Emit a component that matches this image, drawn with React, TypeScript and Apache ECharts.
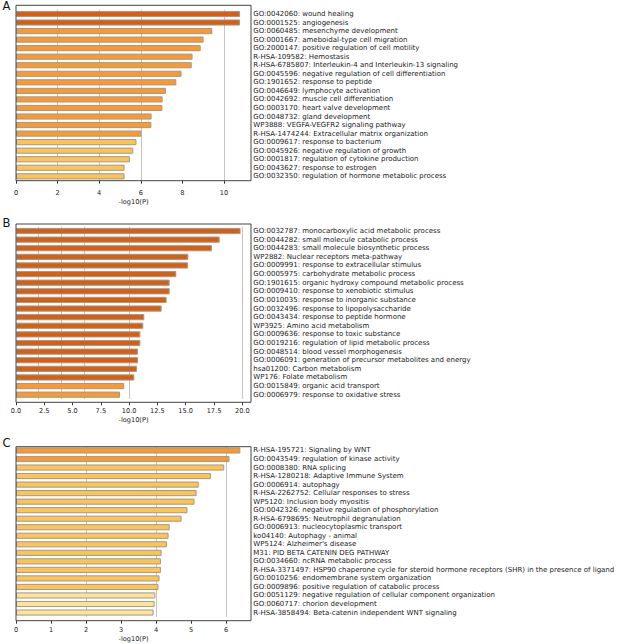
import React, { useEffect, useRef } from "react";
import * as echarts from "echarts";

const catsA = [
  "GO:0042060: wound healing",
  "GO:0001525: angiogenesis",
  "GO:0060485: mesenchyme development",
  "GO:0001667: ameboidal-type cell migration",
  "GO:2000147: positive regulation of cell motility",
  "R-HSA-109582: Hemostasis",
  "R-HSA-6785807: Interleukin-4 and Interleukin-13 signaling",
  "GO:0045596: negative regulation of cell differentiation",
  "GO:1901652: response to peptide",
  "GO:0046649: lymphocyte activation",
  "GO:0042692: muscle cell differentiation",
  "GO:0003170: heart valve development",
  "GO:0048732: gland development",
  "WP3888: VEGFA-VEGFR2 signaling pathway",
  "R-HSA-1474244: Extracellular matrix organization",
  "GO:0009617: response to bacterium",
  "GO:0045926: negative regulation of growth",
  "GO:0001817: regulation of cytokine production",
  "GO:0043627: response to estrogen",
  "GO:0032350: regulation of hormone metabolic process",
];
const valsA = [10.77, 10.77, 9.44, 9.02, 8.88, 8.49, 8.45, 7.96, 7.71, 7.21, 7.05, 7.04, 6.52, 6.51, 6.03, 5.79, 5.64, 5.48, 5.22, 5.22];

const catsB = [
  "GO:0032787: monocarboxylic acid metabolic process",
  "GO:0044282: small molecule catabolic process",
  "GO:0044283: small molecule biosynthetic process",
  "WP2882: Nuclear receptors meta-pathway",
  "GO:0009991: response to extracellular stimulus",
  "GO:0005975: carbohydrate metabolic process",
  "GO:1901615: organic hydroxy compound metabolic process",
  "GO:0009410: response to xenobiotic stimulus",
  "GO:0010035: response to inorganic substance",
  "GO:0032496: response to lipopolysaccharide",
  "GO:0043434: response to peptide hormone",
  "WP3925: Amino acid metabolism",
  "GO:0009636: response to toxic substance",
  "GO:0019216: regulation of lipid metabolic process",
  "GO:0048514: blood vessel morphogenesis",
  "GO:0006091: generation of precursor metabolites and energy",
  "hsa01200: Carbon metabolism",
  "WP176: Folate metabolism",
  "GO:0015849: organic acid transport",
  "GO:0006979: response to oxidative stress",
];
const valsB = [19.85, 18.0, 17.32, 15.23, 15.2, 14.17, 13.58, 13.58, 13.31, 12.87, 11.34, 11.25, 10.99, 10.99, 10.78, 10.78, 10.69, 10.46, 9.57, 9.19];

const catsC = [
  "R-HSA-195721: Signaling by WNT",
  "GO:0043549: regulation of kinase activity",
  "GO:0008380: RNA splicing",
  "R-HSA-1280218: Adaptive Immune System",
  "GO:0006914: autophagy",
  "R-HSA-2262752: Cellular responses to stress",
  "WP5120: Inclusion body myositis",
  "GO:0042326: negative regulation of phosphorylation",
  "R-HSA-6798695: Neutrophil degranulation",
  "GO:0006913: nucleocytoplasmic transport",
  "ko04140: Autophagy - animal",
  "WP5124: Alzheimer's disease",
  "M31: PID BETA CATENIN DEG PATHWAY",
  "GO:0034660: ncRNA metabolic process",
  "R-HSA-3371497: HSP90 chaperone cycle for steroid hormone receptors (SHR) in the presence of ligand",
  "GO:0010256: endomembrane system organization",
  "GO:0009896: positive regulation of catabolic process",
  "GO:0051129: negative regulation of cellular component organization",
  "GO:0060717: chorion development",
  "R-HSA-3858494: Beta-catenin independent WNT signaling",
];
const valsC = [6.41, 6.1, 5.95, 5.57, 5.22, 5.16, 5.1, 4.9, 4.73, 4.39, 4.36, 4.31, 4.16, 4.14, 4.14, 4.1, 4.07, 3.98, 3.96, 3.93];

const ticksA = [0, 2, 4, 6, 8, 10];
const ticksB = [0, 2.5, 5, 7.5, 10, 12.5, 15, 17.5, 20];
const ticksC = [0, 1, 2, 3, 4, 5, 6];
const gridThresholds = [2, 4, 6, 10, 20];
const panelLetters = ["A", "B", "C"];
const axisTitle = "-log10(P)";

const FONT = "DejaVu Sans";

function binColor(v: number): string {
  if (v > 10) return "#D95F0E";
  if (v > 6) return "#FE9929";
  if (v > 4) return "#FEC44F";
  return "#FEE391";
}

const layout = [
  { max: 11.3, decimals: 0, frameTop: 5.3, frameBottom: 180.7, bandTop: 9.7, bandBottom: 180.6, letterY: 6, labelMargin: 8.5, nameGap: 18 },
  { max: 20.77, decimals: 1, frameTop: 224, frameBottom: 402.3, bandTop: 226.7, bandBottom: 399.0, letterY: 222.5, labelMargin: 5.4, nameGap: 13.7 },
  { max: 6.714, decimals: 0, frameTop: 446.7, frameBottom: 620.7, bandTop: 446.2, bandBottom: 616.8, letterY: 443.3, labelMargin: 5.3, nameGap: 14.3 },
];

export default function App() {
  const ref = useRef<HTMLDivElement>(null);
  useEffect(() => {
    if (!ref.current) return;
    const chart = echarts.init(ref.current, undefined, { renderer: "svg" });
    const data = [
      { cats: catsA, vals: valsA, ticks: ticksA },
      { cats: catsB, vals: valsB, ticks: ticksB },
      { cats: catsC, vals: valsC, ticks: ticksC },
    ];
    const LEFT = 16;
    const RIGHT = 251;
    const grids: any[] = [];
    const xAxes: any[] = [];
    const yAxes: any[] = [];
    const series: any[] = [];
    const graphics: any[] = [];
    data.forEach((d, i) => {
      const L = layout[i];
      grids.push({
        left: LEFT,
        width: RIGHT - LEFT,
        top: L.bandTop,
        height: L.bandBottom - L.bandTop,
      });
      xAxes.push({
        gridIndex: i,
        type: "value",
        min: 0,
        max: L.max,
        offset: L.frameBottom - L.bandBottom,
        axisLine: { show: false },
        splitLine: { show: false },
        axisTick: {
          show: true,
          customValues: d.ticks,
          length: 3,
          lineStyle: { color: "#333", width: 1 },
        },
        axisLabel: {
          customValues: d.ticks,
          margin: L.labelMargin,
          fontSize: 6.6,
          color: "#222",
          fontFamily: FONT,
          formatter: (v: number) => v.toFixed(L.decimals),
        },
        name: axisTitle,
        nameLocation: "middle",
        nameGap: L.nameGap,
        nameTextStyle: { fontSize: 6.6, color: "#222", fontFamily: FONT },
      });
      yAxes.push({
        gridIndex: i,
        type: "category",
        data: d.cats,
        inverse: true,
        position: "right",
        axisLine: { show: false },
        axisTick: { show: false },
        splitLine: { show: false },
        axisLabel: {
          interval: 0,
          margin: 2.3,
          align: "left",
          fontSize: 7,
          color: "#1a1a1a",
          fontFamily: FONT,
        },
      });
      series.push({
        type: "bar",
        xAxisIndex: i,
        yAxisIndex: i,
        z: 3,
        barCategoryGap: "28%",
        data: d.vals.map((v) => ({ value: v, itemStyle: { color: binColor(v) } })),
        itemStyle: { borderColor: "#9a9a9a", borderWidth: 1 },
        markLine: {
          silent: true,
          z: 1,
          symbol: ["none", "none"],
          label: { show: false },
          lineStyle: { color: "#c4c4c4", width: 1, type: "solid" },
          data: gridThresholds.filter((t) => t < L.max).map((t) => ({ xAxis: t })),
        },
      });
      graphics.push({
        type: "rect",
        z: 10,
        shape: { x: LEFT, y: L.frameTop, width: RIGHT - LEFT, height: L.frameBottom - L.frameTop },
        style: { fill: "none", stroke: "#444", lineWidth: 1 },
        silent: true,
      });
      graphics.push({
        type: "text",
        z: 10,
        x: 2.5,
        y: L.letterY,
        style: {
          text: panelLetters[i],
          fontSize: 11.5,
          fill: "#111",
          fontFamily: FONT,
          verticalAlign: "middle",
          align: "left",
        },
      });
    });
    chart.setOption({
      animation: false,
      backgroundColor: "#ffffff",
      grid: grids,
      xAxis: xAxes,
      yAxis: yAxes,
      series,
      graphic: graphics,
    });
    return () => chart.dispose();
  }, []);
  return (
    <div
      ref={ref}
      style={{ position: "absolute", left: 0, top: 0, width: 618, height: 644 }}
    />
  );
}
